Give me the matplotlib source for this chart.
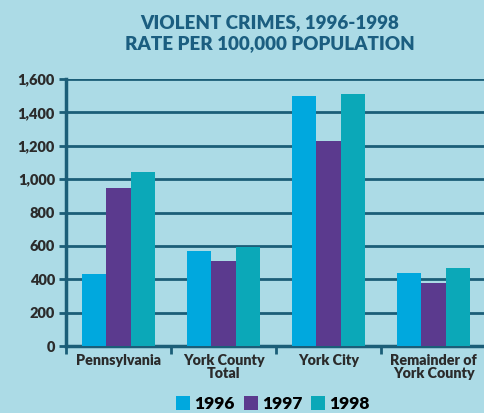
import numpy as np
import matplotlib.pyplot as plt
from matplotlib.patches import Patch

categories = ["Pennsylvania", "York County\nTotal", "York City", "Remainder of\nYork County"]
years = ["1996", "1997", "1998"]
rate_1996 = [431, 569, 1498, 437]
rate_1997 = [947, 509, 1228, 378]
rate_1998 = [1043, 593, 1510, 467]

bg = "#acdbe6"
dark = "#1b5e78"
colors = ["#00a8de", "#5b3a8e", "#0ba8b8"]

plt.rcParams['font.family'] = ['Lato', 'DejaVu Sans']

fig = plt.figure(figsize=(4.84, 4.13), dpi=100, facecolor=bg)
# axes from x=66 to past the right edge, y from 79 to 346 px
ax = fig.add_axes([66/484, 1 - 346/413, 420/484, 267/413], facecolor=bg)

x = np.arange(len(categories))
w = 0.23
for i, vals in enumerate([rate_1996, rate_1997, rate_1998]):
    ax.bar(x + (i - 1) * w, vals, width=w, color=colors[i], zorder=3)

ax.set_xlim(-0.5, 3.5)
ax.set_ylim(0, 1600)
ax.set_yticks(range(0, 1601, 200))
ax.set_yticklabels([f"{v:,}" for v in range(0, 1601, 200)],
                   fontsize=10.5, fontweight='heavy', color="#2b2b2b")
ax.yaxis.grid(True, color=dark, linewidth=2, zorder=1)
ax.set_axisbelow(True)

ax.set_xticks(x)
ax.set_xticklabels(categories, fontsize=10.3, fontweight='heavy', color="#2b2b2b",
                   linespacing=0.95)
ax.tick_params(axis='x', length=0, pad=6)
ax.set_xticks([-0.5, 0.5, 1.5, 2.5], minor=True)
ax.tick_params(axis='x', which='minor', length=6, width=2, color=dark)
ax.tick_params(axis='y', length=5, width=2, color=dark, pad=3)

for s in ['top', 'right']:
    ax.spines[s].set_visible(False)
for s in ['left', 'bottom']:
    ax.spines[s].set_color(dark)
    ax.spines[s].set_linewidth(2.5)

fig.text(0.558, 1 - 33/413, "VIOLENT CRIMES, 1996-1998\nRATE PER 100,000 POPULATION",
         ha='center', va='center', fontsize=13.5, fontweight='heavy', color="#1b5e80",
         linespacing=1.3)

handles = [Patch(facecolor=c, edgecolor='none') for c in colors]
fig.legend(handles, years, loc='center', bbox_to_anchor=(0.564, 1 - 404/413), ncol=3,
           frameon=False, prop={'weight': 'heavy', 'size': 12.5},
           handlelength=0.8, handleheight=0.8, handletextpad=0.25, columnspacing=0.5)

fig.savefig("out.png", dpi=100, facecolor=bg)
